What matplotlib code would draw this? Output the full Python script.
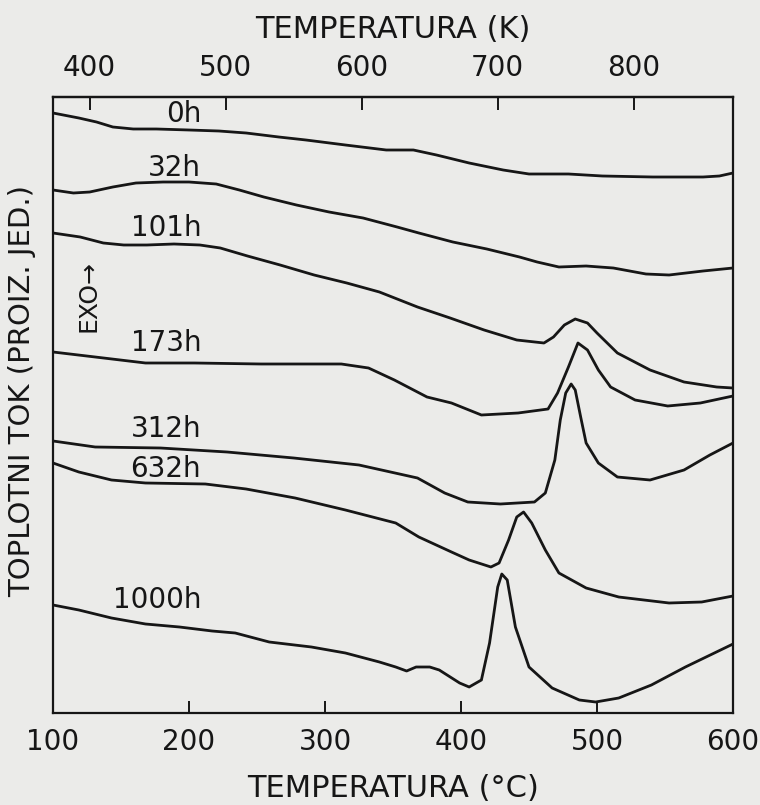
import matplotlib
matplotlib.use("Agg")
import matplotlib.pyplot as plt
import numpy as np

# ---------------- data (temperature in deg C, heat flow in arbitrary units) -------------
labels = ["0h", "32h", "101h", "173h", "312h", "632h", "1000h"]

t_0h = [100, 119, 132, 144, 159, 176, 200, 222, 242, 266, 286, 315, 345, 365, 382, 406,
        431, 450, 479, 504, 541, 578, 590, 600]
hf_0h = [60.0, 59.5, 59.1, 58.6, 58.4, 58.4, 58.3, 58.2, 58.0, 57.6, 57.3, 56.8, 56.3, 56.3,
         55.8, 55.0, 54.3, 53.9, 53.9, 53.7, 53.6, 53.6, 53.7, 54.0]

t_32h = [100, 115, 127, 144, 161, 181, 200, 220, 237, 255, 279, 303, 328, 353, 369, 394,
         419, 443, 456, 472, 492, 512, 536, 553, 578, 600]
hf_32h = [52.3, 52.0, 52.1, 52.6, 53.0, 53.1, 53.1, 52.9, 52.3, 51.6, 50.8, 50.1, 49.5, 48.6,
          48.0, 47.1, 46.4, 45.6, 45.1, 44.6, 44.7, 44.5, 43.9, 43.8, 44.2, 44.5]

t_101h = [100, 120, 137, 152, 169, 189, 208, 223, 243, 267, 292, 316, 340, 368, 392, 417,
          441, 461, 468, 476, 484, 493, 500, 515, 539, 564, 588, 600]
hf_101h = [48.0, 47.6, 47.0, 46.8, 46.8, 46.9, 46.8, 46.5, 45.7, 44.8, 43.8, 43.0, 42.1, 40.6,
           39.5, 38.3, 37.3, 37.0, 37.6, 38.8, 39.4, 39.0, 38.0, 36.0, 34.3, 33.1, 32.6, 32.5]

t_173h = [100, 131, 168, 204, 253, 312, 332, 351, 375, 393, 415, 442, 464, 471, 479, 486,
          493, 501, 510, 528, 552, 576, 600]
hf_173h = [36.1, 35.6, 35.0, 35.0, 34.9, 34.9, 34.5, 33.3, 31.6, 31.0, 29.8, 30.0, 30.4, 32.0,
           34.6, 37.0, 36.3, 34.3, 32.6, 31.3, 30.7, 31.0, 31.7]

t_312h = [100, 131, 179, 228, 277, 325, 368, 388, 405, 429, 454, 462, 469, 473, 477, 481,
          484, 488, 492, 501, 515, 539, 564, 583, 600]
hf_312h = [27.2, 26.6, 26.5, 26.1, 25.5, 24.8, 23.5, 22.0, 21.1, 20.9, 21.1, 22.0, 25.3, 29.3,
           32.0, 32.9, 32.3, 29.6, 27.0, 25.0, 23.6, 23.3, 24.3, 25.8, 27.0]

t_632h = [100, 119, 143, 168, 212, 242, 278, 315, 352, 369, 393, 406, 422, 428, 435, 441,
          446, 452, 462, 472, 492, 516, 553, 577, 600]
hf_632h = [25.0, 24.1, 23.3, 23.0, 22.9, 22.4, 21.5, 20.3, 19.0, 17.6, 16.1, 15.3, 14.6, 15.0,
           17.3, 19.6, 20.1, 19.0, 16.3, 14.0, 12.5, 11.6, 11.0, 11.1, 11.7]

t_1000h = [100, 119, 143, 168, 193, 217, 234, 259, 290, 315, 340, 352, 360, 367, 377, 384,
           399, 406, 415, 421, 427, 430, 434, 440, 450, 467, 487, 499, 516, 540, 565, 600]
hf_1000h = [10.8, 10.3, 9.5, 8.9, 8.6, 8.2, 8.0, 7.1, 6.6, 6.0, 5.1, 4.6, 4.2, 4.6, 4.6, 4.3,
            3.0, 2.6, 3.3, 7.0, 12.6, 13.9, 13.3, 8.6, 4.6, 2.5, 1.3, 1.1, 1.5, 2.8, 4.6, 6.9]

# label anchor positions (right edge temperature, heat-flow level)
label_t = [209, 209, 209, 209, 209, 209, 209]
label_hf = [59.9, 54.5, 48.5, 37.0, 28.4, 24.4, 11.3]

celsius_ticks = [100, 200, 300, 400, 500, 600]
kelvin_ticks = [400, 500, 600, 700, 800]

# ---------------- figure ---------------------------------------------------------------
bg = "#ebebe9"
ink = "#161616"
plt.rcParams["font.family"] = ["DejaVu Sans"]

fig = plt.figure(figsize=(7.6, 8.05), dpi=100, facecolor=bg)
W, H = 760, 805
ax_l, ax_r, ax_b, ax_t = 53, 733, 713, 97
ax = fig.add_axes([ax_l / W, 1 - ax_b / H, (ax_r - ax_l) / W, (ax_b - ax_t) / H])
ax.set_facecolor(bg)

curves_t = [t_0h, t_32h, t_101h, t_173h, t_312h, t_632h, t_1000h]
curves_hf = [hf_0h, hf_32h, hf_101h, hf_173h, hf_312h, hf_632h, hf_1000h]
for t, hf in zip(curves_t, curves_hf):
    ax.plot(t, hf, color=ink, lw=2.0, solid_joinstyle="round", solid_capstyle="round")

for lab, lt, lh in zip(labels, label_t, label_hf):
    ax.text(lt, lh, lab, ha="right", va="center", fontsize=20, color=ink)

ax.set_xlim(100, 600)
ax.set_ylim(0, 61.6)
ax.set_yticks([])
for s in ax.spines.values():
    s.set_linewidth(1.6)
    s.set_color(ink)

ax.set_xticks(celsius_ticks)
ax.set_xticklabels([str(v) for v in celsius_ticks])
ax.tick_params(axis="x", direction="in", length=9, width=1.4, pad=11,
               labelsize=20, colors=ink)

top = ax.secondary_xaxis("top", functions=(lambda c: c + 273.15, lambda k: k - 273.15))
top.set_xticks(kelvin_ticks)
top.set_xticklabels([str(v) for v in kelvin_ticks])
top.tick_params(axis="x", direction="in", length=9, width=1.4, pad=11,
                labelsize=20, colors=ink)
top.spines["top"].set_linewidth(1.6)

fig.text(393 / W, 1 - 30 / H, "TEMPERATURA (K)", ha="center", va="center",
         fontsize=22, color=ink)
fig.text(393 / W, 1 - 788 / H, "TEMPERATURA (°C)", ha="center", va="center",
         fontsize=22, color=ink)
fig.text(22 / W, 1 - 391 / H, "TOPLOTNI TOK (PROIZ. JED.)", ha="center", va="center",
         rotation=90, fontsize=21, color=ink)
fig.text(89 / W, 1 - 296 / H, "EXO\u2192", ha="center", va="center",
         rotation=90, fontsize=18, color=ink)

fig.savefig("out.png", dpi=100, facecolor=bg)
